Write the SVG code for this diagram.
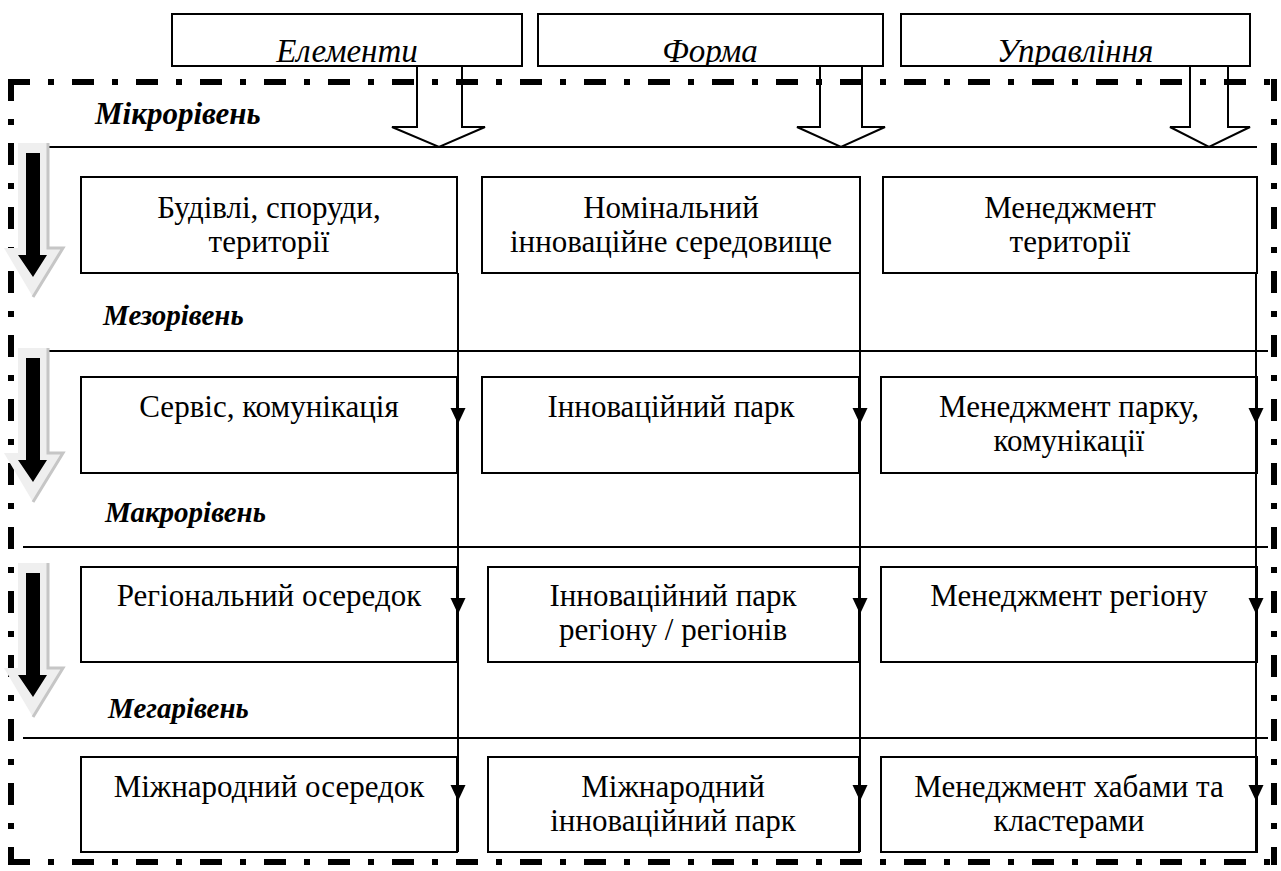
<svg xmlns="http://www.w3.org/2000/svg" width="1281" height="871" viewBox="0 0 1281 871">
<rect width="1281" height="871" fill="#fff"/>

<g id="hdr-elements">
<rect x="172" y="14" width="350" height="52" fill="#fff" stroke="#000" stroke-width="2"/>
<text font-family="Times New Roman" font-size="33" font-style="italic" text-anchor="middle" x="347" y="62">Елементи</text>
</g>
<g id="hdr-form">
<rect x="538" y="14" width="345" height="52" fill="#fff" stroke="#000" stroke-width="2"/>
<text font-family="Times New Roman" font-size="33" font-style="italic" text-anchor="middle" x="710" y="62">Форма</text>
</g>
<g id="hdr-mgmt">
<rect x="901" y="14" width="349" height="52" fill="#fff" stroke="#000" stroke-width="2"/>
<text font-family="Times New Roman" font-size="33" font-style="italic" text-anchor="middle" x="1075" y="62">Управління</text>
</g>
<g id="hdr-trim" fill="#fff">
<rect x="173" y="67" width="348" height="10"/>
<rect x="539" y="67" width="343" height="10"/>
<rect x="902" y="67" width="347" height="10"/>
</g>

<g id="frame" stroke="#000" stroke-width="6" fill="none" stroke-dasharray="22 18 6 18">
<path d="M8,82 H1277"/>
<path d="M1274,79 V865"/>
<path d="M11,79 V865"/>
<path d="M8,862 H1277"/>
</g>

<g id="hollow-arrows" fill="none" stroke="#000" stroke-width="2">
<polygon points="417,66 462,66 462,127 485,127 439,147 392,127 417,127"/>
<polygon points="820,66 862,66 862,127 885,127 841,147 797,127 820,127"/>
<polygon points="1190,66 1228,66 1228,127 1250,127 1209,147 1170,127 1190,127"/>
</g>

<g id="separators" stroke="#000" stroke-width="2">
<line x1="48" y1="147" x2="1257" y2="147"/>
<line x1="48" y1="351" x2="1268" y2="351"/>
<line x1="23" y1="547" x2="1268" y2="547"/>
<line x1="23" y1="738" x2="1268" y2="738"/>
</g>

<g id="level-arrows">
<polygon points="18,143 48,143 48,248 63,248 33,297 4,248 18,248" fill="#efefef"/>
<polyline points="48,143 48,248 63,248 33,297" fill="none" stroke="#c6c6c6" stroke-width="3"/>
<polygon points="26,153 40,153 40,255 47,255 33,277 18,255 26,255" fill="#000"/>
<polygon points="18,348 48,348 48,453 63,453 33,502 4,453 18,453" fill="#efefef"/>
<polyline points="48,348 48,453 63,453 33,502" fill="none" stroke="#c6c6c6" stroke-width="3"/>
<polygon points="26,358 40,358 40,460 47,460 33,482 18,460 26,460" fill="#000"/>
<polygon points="18,563 48,563 48,668 63,668 33,717 4,668 18,668" fill="#efefef"/>
<polyline points="48,563 48,668 63,668 33,717" fill="none" stroke="#c6c6c6" stroke-width="3"/>
<polygon points="26,573 40,573 40,675 47,675 33,697 18,675 26,675" fill="#000"/>
</g>

<g id="labels" fill="#000">
<text font-family="Times New Roman" font-size="31" font-style="italic" font-weight="bold" x="95" y="124">Мікрорівень</text>
<text font-family="Times New Roman" font-size="29" font-style="italic" font-weight="bold" x="103" y="325">Мезорівень</text>
<text font-family="Times New Roman" font-size="29" font-style="italic" font-weight="bold" x="105" y="522">Макрорівень</text>
<text font-family="Times New Roman" font-size="29" font-style="italic" font-weight="bold" x="108" y="718">Мегарівень</text>
</g>

<g id="n-buildings">
<rect x="81" y="177" width="376" height="96" fill="#fff" stroke="#000" stroke-width="2"/>
<text font-family="Times New Roman" font-size="31" text-anchor="middle" x="269" y="218">Будівлі, споруди,</text>
<text font-family="Times New Roman" font-size="31" text-anchor="middle" x="269" y="252">території</text>
</g>
<g id="n-nominal">
<rect x="482" y="177" width="378" height="96" fill="#fff" stroke="#000" stroke-width="2"/>
<text font-family="Times New Roman" font-size="31" text-anchor="middle" x="671" y="218">Номінальний</text>
<text font-family="Times New Roman" font-size="31" text-anchor="middle" x="671" y="252">інноваційне середовище</text>
</g>
<g id="n-mgmt-territory">
<rect x="883" y="177" width="374" height="96" fill="#fff" stroke="#000" stroke-width="2"/>
<text font-family="Times New Roman" font-size="31" text-anchor="middle" x="1070" y="218">Менеджмент</text>
<text font-family="Times New Roman" font-size="31" text-anchor="middle" x="1070" y="252">території</text>
</g>

<g id="n-service">
<rect x="81" y="377" width="376" height="96" fill="#fff" stroke="#000" stroke-width="2"/>
<text font-family="Times New Roman" font-size="31" text-anchor="middle" x="269" y="417">Сервіс, комунікація</text>
</g>
<g id="n-park">
<rect x="482" y="377" width="377" height="96" fill="#fff" stroke="#000" stroke-width="2"/>
<text font-family="Times New Roman" font-size="31" text-anchor="middle" x="671" y="417">Інноваційний парк</text>
</g>
<g id="n-mgmt-park">
<rect x="881" y="377" width="376" height="96" fill="#fff" stroke="#000" stroke-width="2"/>
<text font-family="Times New Roman" font-size="31" text-anchor="middle" x="1069" y="417">Менеджмент парку,</text>
<text font-family="Times New Roman" font-size="31" text-anchor="middle" x="1069" y="451">комунікації</text>
</g>

<g id="n-regional">
<rect x="81" y="567" width="376" height="95" fill="#fff" stroke="#000" stroke-width="2"/>
<text font-family="Times New Roman" font-size="31" text-anchor="middle" x="269" y="606">Регіональний осередок</text>
</g>
<g id="n-park-region">
<rect x="488" y="567" width="371" height="95" fill="#fff" stroke="#000" stroke-width="2"/>
<text font-family="Times New Roman" font-size="31" text-anchor="middle" x="673" y="606">Інноваційний парк</text>
<text font-family="Times New Roman" font-size="31" text-anchor="middle" x="673" y="640">регіону / регіонів</text>
</g>
<g id="n-mgmt-region">
<rect x="881" y="567" width="376" height="95" fill="#fff" stroke="#000" stroke-width="2"/>
<text font-family="Times New Roman" font-size="31" text-anchor="middle" x="1069" y="606">Менеджмент регіону</text>
</g>

<g id="n-intl">
<rect x="81" y="757" width="376" height="95" fill="#fff" stroke="#000" stroke-width="2"/>
<text font-family="Times New Roman" font-size="31" text-anchor="middle" x="269" y="797">Міжнародний осередок</text>
</g>
<g id="n-intl-park">
<rect x="488" y="757" width="371" height="95" fill="#fff" stroke="#000" stroke-width="2"/>
<text font-family="Times New Roman" font-size="31" text-anchor="middle" x="673" y="797">Міжнародний</text>
<text font-family="Times New Roman" font-size="31" text-anchor="middle" x="673" y="831">інноваційний парк</text>
</g>
<g id="n-mgmt-hubs">
<rect x="881" y="757" width="376" height="95" fill="#fff" stroke="#000" stroke-width="2"/>
<text font-family="Times New Roman" font-size="31" text-anchor="middle" x="1069" y="797">Менеджмент хабами та</text>
<text font-family="Times New Roman" font-size="31" text-anchor="middle" x="1069" y="831">кластерами</text>
</g>

<g id="connectors">
<g stroke="#000" stroke-width="2">
<line x1="458" y1="273" x2="458" y2="852"/>
<line x1="860" y1="273" x2="860" y2="852"/>
<line x1="1256" y1="273" x2="1256" y2="852"/>
</g>
<g fill="#000">
<polygon points="450.5,408 465.5,408 458,424"/>
<polygon points="852.5,408 867.5,408 860,424"/>
<polygon points="1248.5,408 1263.5,408 1256,424"/>
<polygon points="450.5,598 465.5,598 458,614"/>
<polygon points="852.5,598 867.5,598 860,614"/>
<polygon points="1248.5,598 1263.5,598 1256,614"/>
<polygon points="450.5,785 465.5,785 458,801"/>
<polygon points="852.5,785 867.5,785 860,801"/>
<polygon points="1248.5,785 1263.5,785 1256,801"/>
</g>
</g>
</svg>
